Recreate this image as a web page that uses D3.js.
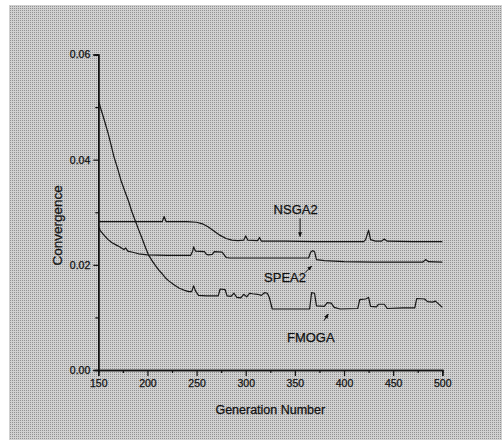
<!DOCTYPE html>
<html lang="en">
<head>
    <meta charset="UTF-8">
    <title>Convergence</title>
    <script src="https://d3js.org/d3.v7.min.js"></script>
    <style>
        body { margin: 0; background: white; }
        text { font-family: "Liberation Sans", Arial, sans-serif; fill: #111; stroke: #111; stroke-width: 0.25px; }
    </style>
</head>
<body>
<svg id="main" width="502" height="440"></svg>
<script>
    // data
    let nsgaGen = [150,180,215,217,219,240,250,256,262,268,274,280,286,292,298,300,302,312,314,316,340,370,400,420,422,425,427,432,438,441,444,470,500];
    let nsgaVal = [.0282,.0282,.0282,.0292,.0282,.0282,.0281,.0278,.0272,.0264,.0256,.0250,.0247,.0246,.0247,.0255,.0247,.0246,.0252,.0245,.0245,.0244,.0244,.0244,.0248,.0266,.0248,.0245,.0245,.0249,.0245,.0244,.0244];

    let speaGen = [150,152,156,160,164,168,172,176,178,180,185,191,200,220,244,246,247,249,258,260,262,266,268,276,280,284,320,364,366,368,370,372,380,400,430,480,483,486,500];
    let speaVal = [.0275,.0265,.0256,.0248,.0242,.0238,.0234,.0229,.0232,.0226,.0224,.0221,.0219,.0218,.0218,.0226,.0234,.0226,.0225,.0220,.0219,.0220,.0225,.0224,.0214,.0213,.0213,.0213,.0224,.0227,.0225,.0210,.0208,.0206,.0205,.0205,.0210,.0206,.0205];

    let fmogaGen = [150,151,153,156,160,163,166,170,173,177,181,184,188,191,194,198,201,205,208,212,215,218,222,227,232,237,242,245,247,249,252,260,268,272,274,279,281,285,288,291,295,298,301,304,307,312,316,319,322,324,327,350,365,367,370,372,380,383,387,390,396,414,416,422,425,427,433,435,441,444,460,472,474,482,485,490,493,500];
    let fmogaVal = [.0510,.0507,.0494,.0476,.0450,.0428,.0405,.0381,.0361,.0340,.0320,.0302,.0282,.0267,.0253,.0233,.0219,.0207,.0199,.0189,.0183,.0176,.0169,.0162,.0156,.0152,.0149,.0149,.0160,.0150,.0142,.0141,.0141,.0141,.0154,.0153,.0141,.0140,.0146,.0138,.0137,.0144,.0139,.0146,.0145,.0144,.0142,.0147,.0146,.0138,.0116,.0116,.0116,.0147,.0146,.0122,.0121,.0128,.0127,.0119,.0116,.0117,.0134,.0135,.0138,.0121,.0120,.0125,.0125,.0117,.0118,.0118,.0136,.0135,.0130,.0129,.0131,.0119];

    let xTicks = [150,200,250,300,350,400,450,500];
    let yTicks = [0.00,0.02,0.04,0.06];

    // label name, text position, arrow from, arrow to (data units)
    let labelNames = ["NSGA2","SPEA2","FMOGA"];
    let labelAt = [[350.8,.02967],[340,.01683],[366.2,.00538]];
    let arrowFrom = [[355.3,.02885],[360.3,.0185],[379.6,.00938]];
    let arrowTo = [[355.3,.02535],[367.1,.01978],[384,.01065]];

    let svg = d3.select('svg#main');

    // halftone-ish grey background like the scan
    let defs = svg.append('defs');
    let pat = defs.append('pattern').attr('id','dots')
        .attr('width',2).attr('height',2).attr('patternUnits','userSpaceOnUse');
    pat.append('rect').attr('width',2).attr('height',2).attr('fill','#d0d0d0');
    pat.append('rect').attr('width',1).attr('height',1).attr('fill','#929292');
    svg.append('rect').attr('x',9).attr('y',5).attr('width',493).attr('height',435)
        .attr('fill','url(#dots)');

    defs.append('marker').attr('id','head')
        .attr('viewBox','0 0 10 10').attr('refX',9).attr('refY',5)
        .attr('markerWidth',5).attr('markerHeight',5).attr('orient','auto')
        .append('path').attr('d','M0,1L10,5L0,9Z').attr('fill','#111');

    let xScale = d3.scaleLinear().domain([150,500]).range([98.3,442.3]);
    let yScale = d3.scaleLinear().domain([0,0.06]).range([370,54.5]);

    //x axis: major + minor ticks
    let xAxis = svg.append('g').attr('transform','translate(0,'+yScale(0)+')');
    xAxis.call(d3.axisBottom(xScale).tickValues(d3.range(175,500,50)).tickSize(3).tickFormat(''));
    xAxis.append('g').call(d3.axisBottom(xScale).tickValues(xTicks).tickSize(6).tickFormat(d3.format('d')));
    xAxis.selectAll('path.domain').attr('stroke','#111').attr('stroke-width',1.5);
    xAxis.selectAll('line').attr('stroke','#111').attr('stroke-width',1.2);
    xAxis.selectAll('text').attr('font-size','10.5px').attr('font-family','"Liberation Sans", Arial').attr('fill','#111').attr('dy','0.8em');

    let yAxis = svg.append('g').attr('transform','translate('+xScale(150)+',0)');
    yAxis.call(d3.axisLeft(yScale).tickValues([0.01,0.03,0.05]).tickSize(3).tickFormat(''));
    yAxis.append('g').call(d3.axisLeft(yScale).tickValues(yTicks).tickSize(5).tickFormat(d3.format('.2f')));
    yAxis.selectAll('path.domain').attr('stroke','#111').attr('stroke-width',1.5);
    yAxis.selectAll('line').attr('stroke','#111').attr('stroke-width',1.2);
    yAxis.selectAll('text').attr('font-size','10.5px').attr('font-family','"Liberation Sans", Arial').attr('fill','#111').attr('x',-8);

    //series lines
    let line = d3.line().x(function(d){return xScale(d[0])}).y(function(d){return yScale(d[1])});
    let series = [d3.zip(nsgaGen,nsgaVal), d3.zip(speaGen,speaVal), d3.zip(fmogaGen,fmogaVal)];
    svg.append('g').selectAll('path').data(series).enter().append('path')
        .attr('d',function(d){return line(d)})
        .attr('fill','none').attr('stroke','#161616').attr('stroke-width',1.2)
        .attr('stroke-linejoin','round');

    //labels with arrows
    let lab = svg.append('g');
    labelNames.forEach(function(name,i){
        lab.append('text').attr('x',xScale(labelAt[i][0])).attr('y',yScale(labelAt[i][1]))
            .attr('text-anchor','middle').attr('font-size','13px').text(name);
        lab.append('line')
            .attr('x1',xScale(arrowFrom[i][0])).attr('y1',yScale(arrowFrom[i][1]))
            .attr('x2',xScale(arrowTo[i][0])).attr('y2',yScale(arrowTo[i][1]))
            .attr('stroke','#111').attr('stroke-width',1).attr('marker-end','url(#head)');
    });

    //axis titles
    svg.append('text').attr('x',(xScale(150)+xScale(500))/2).attr('y',414)
        .attr('text-anchor','middle').attr('font-size','12.5px').text('Generation Number');
    svg.append('text').attr('transform','translate(62,'+yScale(0.0275)+') rotate(-90)')
        .attr('text-anchor','middle').attr('font-size','13.5px').text('Convergence');
</script>
</body>
</html>
